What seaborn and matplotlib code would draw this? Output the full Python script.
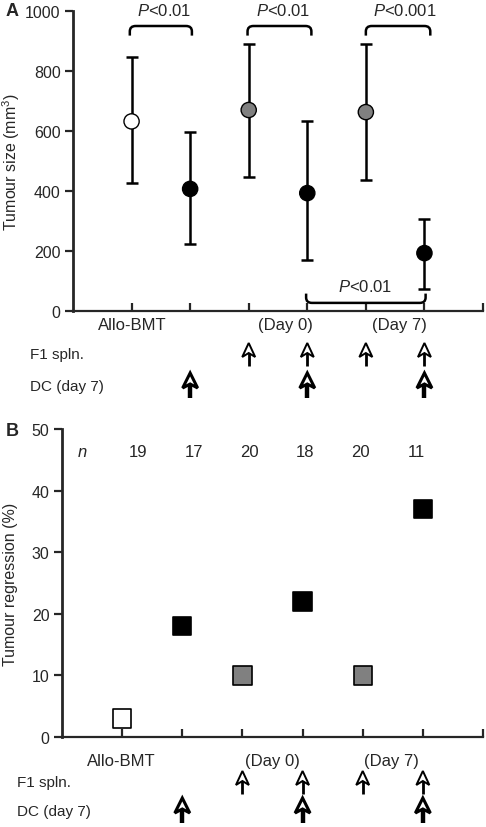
import numpy as np
import pandas as pd
import seaborn as sns
import matplotlib.pyplot as plt
from matplotlib.path import Path
from matplotlib.patches import PathPatch, Polygon
from matplotlib.transforms import blended_transform_factory

# data
groups = ['Allo-BMT', 'DC', 'F1 d0', 'F1 d0 + DC', 'F1 d7', 'F1 d7 + DC']
positions = [1, 2, 3, 4, 5, 6]
fills = ['white', 'black', 'gray', 'black', 'gray', 'black']
tumour_size = [632, 407, 670, 393, 663, 193]
tumour_low = [428, 222, 448, 170, 438, 75]
tumour_high = [848, 597, 890, 632, 890, 307]
regression = [3, 18, 10, 22, 10, 37]
n_mice = [19, 17, 20, 18, 20, 11]
f1_arrows = [3, 4, 5, 6]
dc_arrows = [2, 4, 6]
x_labels = ['Allo-BMT', '(Day 0)', '(Day 7)']

palette = {'white': '#ffffff', 'black': '#000000', 'gray': '#808080'}

sns.set_theme(style='ticks')
plt.rcParams['font.family'] = ['Liberation Sans', 'DejaVu Sans']
plt.rcParams['font.size'] = 11
plt.rcParams['mathtext.fontset'] = 'custom'
plt.rcParams['mathtext.rm'] = 'Liberation Sans'
plt.rcParams['mathtext.it'] = 'Liberation Sans:italic'

df = pd.DataFrame({'group': groups, 'x': positions, 'fill': fills,
                   'size': tumour_size, 'low': tumour_low, 'high': tumour_high,
                   'regression': regression, 'n': n_mice})

W, H = 486, 828
fig = plt.figure(figsize=(W/100, H/100), dpi=100)
axA = fig.add_axes([73/W, 1-312/H, 410/W, 300/H])
axB = fig.add_axes([62/W, 1-738/H, 421/W, 308/H])


def style_axis(ax):
    for s in ['top', 'right']:
        ax.spines[s].set_visible(False)
    ax.spines['left'].set_linewidth(2)
    ax.spines['bottom'].set_linewidth(1.6)
    ax.set_xlim(0, 7)
    ax.set_xticks(range(1, 8))
    ax.set_xticklabels([])
    ax.tick_params(axis='x', direction='in', length=6, width=1.6)
    ax.tick_params(axis='y', direction='out', length=6, width=1.6, labelsize=11.5, pad=3)
    ax.set_xlabel('')


def bracket(ax, x0, x1, y0, y1, rx, ry):
    # rounded bracket; y0 = ends, y1 = bar
    sgn = np.sign(y1 - y0)
    verts = [(x0, y0), (x0, y1 - sgn*ry), (x0, y1), (x0 + rx, y1),
             (x1 - rx, y1), (x1, y1), (x1, y1 - sgn*ry), (x1, y0)]
    codes = [Path.MOVETO, Path.LINETO, Path.CURVE3, Path.CURVE3,
             Path.LINETO, Path.CURVE3, Path.CURVE3, Path.LINETO]
    ax.add_patch(PathPatch(Path(verts, codes), fill=False, lw=1.8, ec='black', clip_on=False))


def arrow(ax, x, y_tip, y_bot, half_w, head_len, notch, lw_shaft, lw_head):
    # y values in pixels from the top, x half width in pixels
    tr = blended_transform_factory(ax.transData, fig.transFigure)
    unit = ax.get_position().width * W / 7
    fy = lambda p: 1 - p / H
    dx = half_w / unit
    ax.plot([x, x], [fy(y_bot), fy(y_tip + head_len - notch)], color='black',
            lw=lw_shaft, transform=tr, clip_on=False, solid_capstyle='butt')
    pts = [(x, fy(y_tip)), (x - dx, fy(y_tip + head_len)),
           (x, fy(y_tip + head_len - notch)), (x + dx, fy(y_tip + head_len))]
    ax.add_patch(Polygon(pts, closed=True, fc='white', ec='black', lw=lw_head,
                         joinstyle='miter', transform=tr, clip_on=False))


def treatment_rows(ax, y_f1, y_dc, x_txt):
    fig.text(x_txt/W, 1 - y_f1/H, 'F1 spln.', fontsize=11, va='center')
    fig.text(x_txt/W, 1 - y_dc/H, 'DC (day 7)', fontsize=11, va='center')
    for x in f1_arrows:
        arrow(ax, x, y_f1 - 11, y_f1 + 12, 6.5, 14, 4, 2.0, 1.4)
    for x in dc_arrows:
        arrow(ax, x, y_dc - 13, y_dc + 12, 7.5, 15, 4, 3.2, 2.2)


# ---- panel A
axA.errorbar(df.x, df['size'], yerr=[df['size'] - df.low, df.high - df['size']],
             fmt='none', ecolor='black', elinewidth=1.8, capsize=4, capthick=1.8, zorder=2)
sns.scatterplot(data=df, x='x', y='size', hue='fill', palette=palette, s=120,
                edgecolor='black', linewidth=1, legend=False, ax=axA, zorder=3)
style_axis(axA)
axA.set_ylim(0, 1000)
axA.set_yticks(range(0, 1001, 200))
axA.set_ylabel('Tumour size (mm$^3$)', fontsize=11.5)
axA.yaxis.set_label_coords(-0.125, 0.5)

for a, b, tx, txt in [(0.97, 2.03, 1.55, '<0.01'), (2.98, 4.07, 3.58, '<0.01'),
                      (5.0, 6.1, 5.66, '<0.001')]:
    bracket(axA, a, b, 918, 950, 0.1, 18)
    axA.text(tx, 1003, '$\\it{P}$' + txt, ha='center', va='center', fontsize=12, clip_on=False)
bracket(axA, 3.98, 6.02, 58, 27, 0.1, 18)
axA.text(4.98, 85, '$\\it{P}$<0.01', ha='center', va='center', fontsize=12)

for xp, t in zip([1.02, 3.62, 5.58], x_labels):
    axA.text(xp, -45, t, ha='center', va='center', fontsize=12, clip_on=False)
treatment_rows(axA, 355, 387, 30)

# ---- panel B
sns.scatterplot(data=df, x='x', y='regression', hue='fill', palette=palette, s=175,
                marker='s', edgecolor='black', linewidth=1.2, legend=False, ax=axB,
                zorder=3, clip_on=False)
style_axis(axB)
axB.set_ylim(0, 50)
axB.set_yticks(range(0, 51, 10))
axB.set_ylabel('Tumour regression (%)', fontsize=11.5)
axB.yaxis.set_label_coords(-0.105, 0.5)

axB.text(0.33, 46.4, 'n', style='italic', ha='center', va='center', fontsize=12)
for i, nv in enumerate(df.n):
    axB.text(1.27 + 0.923 * i, 46.4, str(nv), ha='center', va='center', fontsize=12)

for xp, t in zip([0.98, 3.5, 5.47], x_labels):
    axB.text(xp, -3.8, t, ha='center', va='center', fontsize=12, clip_on=False)
treatment_rows(axB, 783, 812, 17)

fig.text(6/W, 1 - 12/H, 'A', fontsize=13, fontweight='bold', va='center')
fig.text(6/W, 1 - 432/H, 'B', fontsize=13, fontweight='bold', va='center')

fig.savefig('out.png', dpi=100)
